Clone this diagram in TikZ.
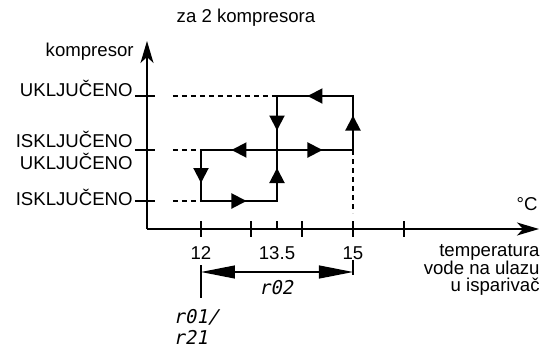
\documentclass[tikz,border=0pt]{standalone}
\usepackage{fontspec}
\setmainfont{Liberation Sans}
\newfontfamily\segfont[FakeSlant=0.2]{DejaVu Sans Mono}
\usepackage{tikz}
\usetikzlibrary{arrows.meta,decorations.markings,positioning,calc}
\tikzset{%
  axisLine/.style={%
    line width=0.6pt,
    -{Stealth[length=11pt,width=6.5pt,inset=3pt]}
  },
  tickLine/.style={%
    line width=0.6pt
  },
  guideLine/.style={%
    line width=0.6pt,
    dash pattern=on 2.5pt off 2pt
  },
  loopLine/.style={%
    line width=1pt,
    line cap=rect,
    postaction={decorate},
    decoration={markings,
      mark=at position 0.5 with {\arrow[xshift=3.75pt]{Triangle[length=7.5pt,width=7.5pt]}}}
  },
  dimLine/.style={%
    line width=0.6pt,
    {Triangle[length=17pt,width=6.5pt]}-{Triangle[length=17pt,width=6.5pt]}
  },
  plainText/.style={%
    inner sep=0pt,
    font=\fontsize{9.3}{11}\selectfont
  },
  codeText/.style={%
    inner sep=0pt,
    font=\fontsize{9.5}{10.5}\selectfont\segfont
  }
}

\begin{document}
\begin{tikzpicture}[x=0.5pt,y=-0.5pt]
  \useasboundingbox (0,0) rectangle (554,349);

  % axes
  \coordinate (orig) at (147,229);
  \coordinate (yEnd) at (147,41);
  \coordinate (xEnd) at (539,229);
  \draw[axisLine] (orig) -- (yEnd);
  \draw[axisLine] (orig) -- (xEnd);

  \foreach \y in {96,150,201}
    \draw[tickLine] (135,\y) -- (155,\y);
  \foreach \x in {201,251,302,353,404}
    \draw[tickLine] (\x,221) -- (\x,237);
  \draw[tickLine] (277,221) -- (277,229);

  % hysteresis loop
  \coordinate (lo12) at (201,201);
  \coordinate (lo135) at (277,201);
  \coordinate (mi12) at (201,150);
  \coordinate (mi135) at (277,150);
  \coordinate (mi15) at (353,150);
  \coordinate (hi135) at (277,96);
  \coordinate (hi15) at (353,96);

  \foreach \a/\b in {lo12/lo135, lo135/mi135, mi135/mi15, mi15/hi15,
                     hi15/hi135, hi135/mi135, mi135/mi12, mi12/lo12}
    \draw[loopLine] (\a) -- (\b);

  % guides
  \coordinate (gHi) at (173,96);
  \coordinate (gMi) at (173,150);
  \coordinate (gLo) at (173,201);
  \coordinate (gAx) at (353,213);
  \draw[guideLine] (gHi) -- (hi135);
  \draw[guideLine] (gMi) -- (mi12);
  \draw[guideLine] (gLo) -- (lo12);
  \draw[guideLine] (mi15) -- (gAx);

  % labels
  \node[plainText, anchor=base] (title) at (246,22) {za 2 kompresora};
  \node[plainText, anchor=base east] (yLab) at (134,56) {kompresor};
  \node[plainText, anchor=base east] (labOn) at (133,96) {UKLJUČENO};
  \node[plainText, anchor=east, align=right] (labMid) at (133,150) {ISKLJUČENO\\UKLJUČENO};
  \node[plainText, anchor=base east] (labOff) at (133,205) {ISKLJUČENO};
  \node[plainText, anchor=base] (unit) at (527,210) {°C};

  \node[plainText, anchor=base] (t12) at (201,259) {12};
  \node[plainText, anchor=base] (t135) at (277,259) {13.5};
  \node[plainText, anchor=base] (t15) at (353,259) {15};
  \node[plainText, anchor=north east, align=right,
        font=\fontsize{9.3}{8.8}\selectfont] (xLab) at (540,244)
        {temperatura\\vode na ulazu\\u isparivač};

  % differential
  \coordinate (dimA) at (201,272);
  \coordinate (dimB) at (353,272);
  \draw[tickLine] (201,265) -- (201,298);
  \draw[tickLine] (353,260) -- (353,275);
  \draw[dimLine] (dimA) -- (dimB);
  \node[codeText] (rDiff) at (276,288) {r02};
  \node[codeText, anchor=north west, align=left] (rSet) at (173,309) {r01/\\r21};
\end{tikzpicture}
\end{document}
